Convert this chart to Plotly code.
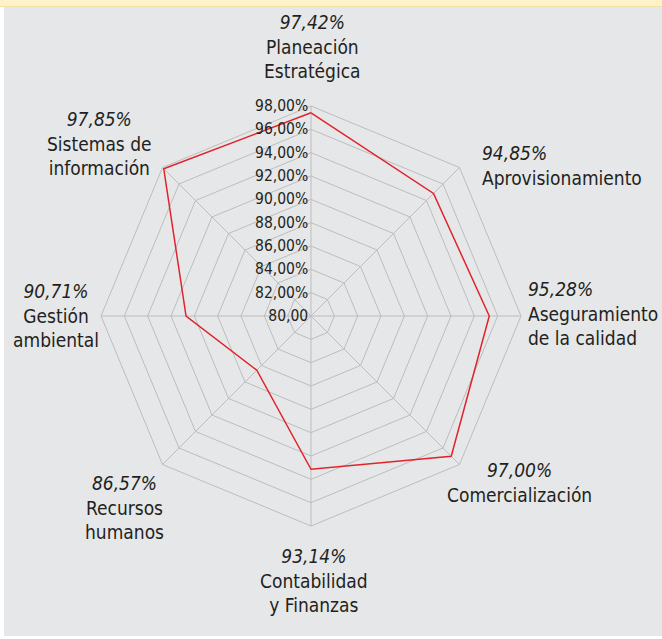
import plotly.graph_objects as go

categories = ["Planeación<br>Estratégica", "Aprovisionamiento", "Aseguramiento<br>de la calidad",
              "Comercialización", "Contabilidad<br>y Finanzas", "Recursos<br>humanos",
              "Gestión<br>ambiental", "Sistemas de<br>información"]
values = [97.42, 94.85, 95.28, 97.00, 93.14, 86.57, 90.71, 97.85]
radial_ticks = [80, 82, 84, 86, 88, 90, 92, 94, 96, 98]
radial_ticktext = ["80,00", "82,00%", "84,00%", "86,00%", "88,00%", "90,00%",
                   "92,00%", "94,00%", "96,00%", "98,00%"]

FONT = "DejaVu Sans Condensed, Liberation Sans Narrow, sans-serif"
TXT = "#231f20"
GRID = "#bdbdbf"

def pct(v):
    return f"{v:.2f}".replace(".", ",") + "%"

keys = [f"c{i}" for i in range(len(categories))]

fig = go.Figure()
fig.add_trace(go.Scatterpolar(
    r=values + values[:1], theta=keys + keys[:1], mode="lines",
    line=dict(color="#e1232b", width=1.5), hoverinfo="skip", showlegend=False))

W, H = 662, 639
cx, cy, R = 311, 316, 210

# label placement (pixel x, pixel y of block middle, alignment)
label_pos = [(312, 46, "center", "center"), (480, 166, "left", "left"),
             (526, 313, "left", "left"), (519, 482, "center", "center"),
             (314, 580, "center", "center"), (124, 507, "center", "center"),
             (56, 315, "center", "center"), (99, 143, "center", "center")]
annotations = []
for v, c, (px, py, xa, al) in zip(values, categories, label_pos):
    annotations.append(dict(
        text=f"<i>{pct(v)}</i><br>{c}", x=px / W, y=1 - py / H, xref="paper", yref="paper",
        xanchor=xa, yanchor="middle", align=al, showarrow=False,
        font=dict(size=19, color=TXT, family=FONT)))

fig.update_layout(
    width=W, height=H, margin=dict(l=0, r=0, t=0, b=0),
    paper_bgcolor="white", plot_bgcolor="rgba(0,0,0,0)",
    font=dict(family=FONT, color=TXT, size=18),
    annotations=annotations,
    shapes=[
        dict(type="rect", xref="paper", yref="paper", x0=4 / W, x1=1, y0=3 / H, y1=1 - 7 / H,
             fillcolor="#e6e7e9", line=dict(width=0), layer="below"),
        dict(type="rect", xref="paper", yref="paper", x0=0, x1=1, y0=1 - 6 / H, y1=1,
             fillcolor="#fdf2c8", line=dict(width=0), layer="below"),
        dict(type="line", xref="paper", yref="paper", x0=0, x1=1, y0=1 - 6.5 / H, y1=1 - 6.5 / H,
             line=dict(color="#f1e2aa", width=1), layer="below"),
    ],
    polar=dict(
        domain=dict(x=[(cx - R) / W, (cx + R) / W], y=[(H - cy - R) / H, (H - cy + R) / H]),
        bgcolor="rgba(0,0,0,0)",
        gridshape="linear",
        radialaxis=dict(range=[80, 98], tickvals=radial_ticks, ticktext=radial_ticktext,
                        angle=90, tickangle=90, side="counterclockwise",
                        showline=False, gridcolor=GRID, gridwidth=1, ticks="",
                        tickfont=dict(size=15.5, color=TXT, family=FONT)),
        angularaxis=dict(type="category", categoryarray=keys, tickvals=keys,
                         showticklabels=False,
                         rotation=90, direction="clockwise",
                         showline=True, linecolor=GRID, linewidth=1,
                         gridcolor=GRID, gridwidth=1, ticks=""),
    ),
)
fig.write_html("out.html", post_script="document.body.style.margin='0';",
               config={"displayModeBar": False})
